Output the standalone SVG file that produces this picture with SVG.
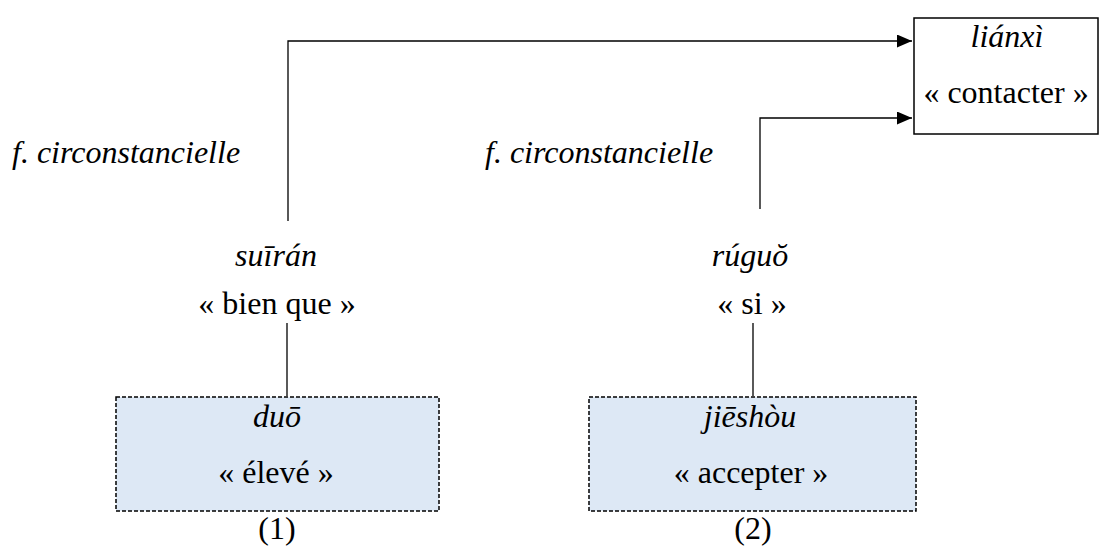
<svg xmlns="http://www.w3.org/2000/svg" width="1100" height="547" viewBox="0 0 1100 547">
<defs>
<style>
text{font-family:"Liberation Serif","Times New Roman",serif;font-size:32px;fill:#000}
.it{font-style:italic}
.c{text-anchor:middle}
.ln{fill:none;stroke:#000;stroke-width:1.3}
.dash{fill:#dde8f5;stroke:#000;stroke-width:1.5;stroke-dasharray:4 2}
.box{fill:#fff;stroke:#000;stroke-width:1.5}
</style>
<marker id="ah" viewBox="0 0 15 13" refX="15" refY="6.5" markerWidth="15" markerHeight="13" markerUnits="userSpaceOnUse" orient="auto">
<path d="M0,0 L15,6.5 L0,13 z" fill="#000"/>
</marker>
</defs>
<rect width="1100" height="547" fill="#fff"/>
<g id="connectors">
<polyline class="ln" points="288,221 288,41 912,41" marker-end="url(#ah)"/>
<polyline class="ln" points="760,209 760,118 912,118" marker-end="url(#ah)"/>
<line class="ln" x1="287" y1="323" x2="287" y2="396"/>
<line class="ln" x1="753" y1="323" x2="753" y2="396"/>
</g>
<g id="lianxi">
<rect class="box" x="914" y="18" width="184" height="116"/>
<text class="it c" x="1007" y="47">liánxì</text>
<text class="c" x="1006" y="103">« contacter »</text>
</g>
<g id="label-left">
<text class="it" x="12" y="163">f. circonstancielle</text>
</g>
<g id="label-right">
<text class="it" x="485" y="163">f. circonstancielle</text>
</g>
<g id="suiran">
<text class="it c" x="276" y="266">suīrán</text>
<text class="c" x="277" y="314">« bien que »</text>
</g>
<g id="ruguo">
<text class="it c" x="750" y="266">rúguŏ</text>
<text class="c" x="752" y="314">« si »</text>
</g>
<g id="duo">
<rect class="dash" x="116" y="397" width="323" height="114"/>
<text class="it c" x="277" y="427">duō</text>
<text class="c" x="276" y="483">« élevé »</text>
<text class="c" x="277" y="539">(1)</text>
</g>
<g id="jieshou">
<rect class="dash" x="589" y="397" width="327" height="114"/>
<text class="it c" x="750" y="427">jiēshòu</text>
<text class="c" x="751" y="483">« accepter »</text>
<text class="c" x="753" y="539">(2)</text>
</g>
</svg>
